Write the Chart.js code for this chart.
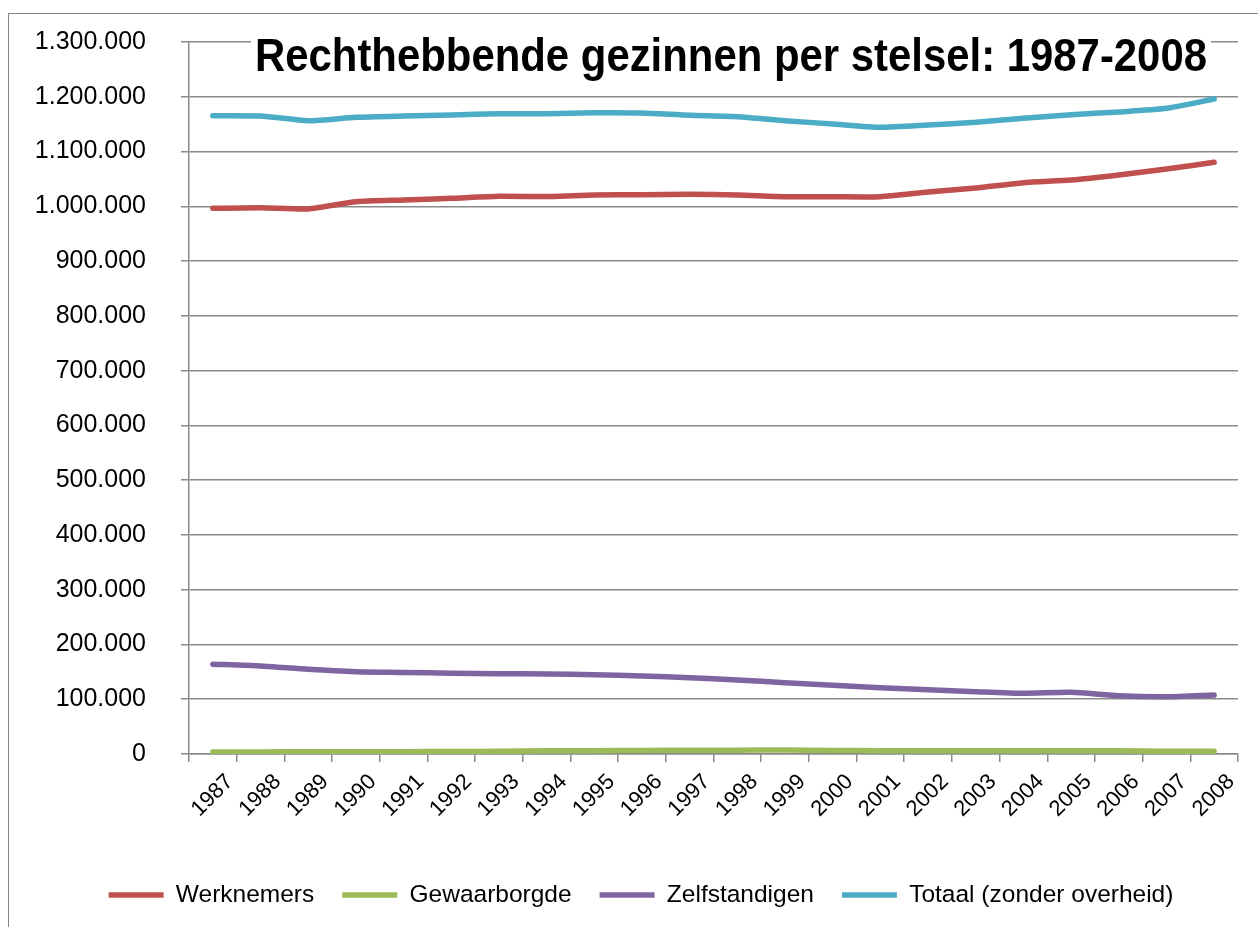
<!DOCTYPE html>
<html>
<head>
<meta charset="utf-8">
<script src="https://cdn.jsdelivr.net/npm/chart.js@4/dist/chart.umd.min.js"></script>
<style>
html,body{margin:0;padding:0;background:#fff;overflow:hidden;width:1258px;height:927px;}
#frame{position:absolute;left:8px;top:13px;width:1400px;height:1100px;border-left:1px solid #858585;border-top:1px solid #858585;}
#wrap{position:absolute;left:0;top:0;width:1258px;height:927px;}
</style>
</head>
<body>
<div id="frame"></div>
<div id="wrap"><canvas id="c" width="1258" height="927"></canvas></div>
<script>
const titleText = 'Rechthebbende gezinnen per stelsel: 1987-2008';
const years = ['1987','1988','1989','1990','1991','1992','1993','1994','1995','1996','1997','1998','1999','2000','2001','2002','2003','2004','2005','2006','2007','2008'];
const seriesNames = ['Werknemers','Gewaarborgde','Zelfstandigen','Totaal (zonder overheid)'];
const werknemers = [996300, 997500, 995100, 1008400, 1011500, 1014600, 1018300, 1017800, 1020600, 1021200, 1021900, 1020600, 1017500, 1017500, 1017500, 1026100, 1033400, 1043100, 1048000, 1057100, 1068100, 1080300];
const gewaarborgde = [3500, 3800, 4000, 4000, 4200, 4500, 5000, 5800, 6000, 6500, 6800, 7000, 7200, 6500, 6000, 6000, 6000, 5800, 5800, 5800, 5000, 4800];
const zelfstandigen = [164000, 160700, 154600, 150300, 149000, 147300, 146600, 146000, 144800, 142400, 139300, 135100, 130200, 125400, 121100, 117400, 113800, 110800, 112600, 106400, 104600, 107700];
const totaal = [1165400, 1164900, 1156300, 1162500, 1164900, 1166700, 1169100, 1169100, 1170900, 1170300, 1166100, 1163600, 1156300, 1150300, 1144200, 1148400, 1153400, 1160700, 1167300, 1172200, 1178900, 1195900];
const colors = ['#C0504D','#9BBB59','#8064A2','#4BACC6'];
const yMin = 0, yMax = 1300000, yStep = 100000;

const FONT = '"Liberation Sans", Arial, sans-serif';
const GRID = '#8a8a8a';
// target plot area
const AREA = { left: 189, top: 42, right: 1238, bottom: 754 };

function fmt(v){ return String(Math.round(v)).replace(/\B(?=(\d{3})+(?!\d))/g, '.'); }

const titlePlugin = {
  id: 'boxTitle',
  afterDraw(chart){
    const ctx = chart.ctx;
    ctx.save();
    ctx.font = 'bold 46px ' + FONT;
    const w = ctx.measureText(titleText).width;
    const target = 952;
    const left = 255, base = 71;
    ctx.fillStyle = '#fff';
    ctx.fillRect(left - 4, 28, target + 8, 57);
    ctx.translate(left, base);
    ctx.scale(target / w, 1);
    ctx.fillStyle = '#000';
    ctx.textBaseline = 'alphabetic';
    ctx.textAlign = 'left';
    ctx.fillText(titleText, 0, 0);
    ctx.restore();
  }
};

const allSeries = [werknemers, gewaarborgde, zelfstandigen, totaal];
const datasets = allSeries.map((d, i) => ({
  label: seriesNames[i],
  data: d,
  borderColor: colors[i],
  backgroundColor: colors[i],
  borderWidth: 5.5,
  borderCapStyle: 'round',
  borderJoinStyle: 'round',
  pointRadius: 0,
  pointHoverRadius: 0,
  tension: 0.2,
  fill: false,
  yAxisID: 'y'
}));

const dims = { xHeight: 98.75, yWidth: 165, rWidth: 20, padTop: 42 };

const chart = new Chart(document.getElementById('c'), {
  type: 'line',
  data: { labels: years, datasets },
  plugins: [titlePlugin],
  options: {
    responsive: false,
    animation: false,
    devicePixelRatio: 1,
    layout: { padding: () => ({ left: 24, right: 0, top: dims.padTop, bottom: 9.75 }) },
    plugins: {
      legend: {
        position: 'bottom',
        labels: {
          usePointStyle: true,
          pointStyle: 'line',
          pointStyleWidth: 55,
          font: { family: FONT, size: 24.5 },
          color: '#000',
          padding: 28
        }
      },
      tooltip: { enabled: false },
      title: { display: false }
    },
    scales: {
      x: {
        offset: true,
        grid: { offset: true, drawOnChartArea: false, drawTicks: true, tickLength: 8, color: GRID, lineWidth: 1.5 },
        border: { color: GRID, width: 1.5 },
        ticks: { autoSkip: false, maxRotation: 45, minRotation: 45, labelOffset: 17, font: { family: FONT, size: 22 }, color: '#000', padding: 7 },
        afterFit: s => { s.height = dims.xHeight; }
      },
      y: {
        min: yMin, max: yMax,
        ticks: { stepSize: yStep, padding: 35, font: { family: FONT, size: 25 }, color: '#000', callback: v => fmt(v) },
        grid: { color: GRID, lineWidth: 1.5, tickLength: 8 },
        border: { color: GRID, width: 1.5 },
        afterFit: s => { s.width = dims.yWidth; s.paddingTop = 0; s.paddingBottom = 0; }
      },
      yRight: {
        position: 'right',
        min: yMin, max: yMax,
        grid: { display: false, drawTicks: false },
        border: { display: false },
        ticks: { display: false },
        afterFit: s => { s.width = dims.rWidth; s.paddingTop = 0; s.paddingBottom = 0; }
      }
    }
  }
});

// nudge the layout so the plot area lands on the target rectangle
for (let k = 0; k < 4; k++) {
  const a = chart.chartArea;
  dims.padTop += AREA.top - a.top;
  dims.rWidth += a.right - AREA.right;
  dims.xHeight += a.bottom - AREA.bottom;
  dims.yWidth += AREA.left - a.left;
  chart.update();
}
</script>
</body>
</html>
